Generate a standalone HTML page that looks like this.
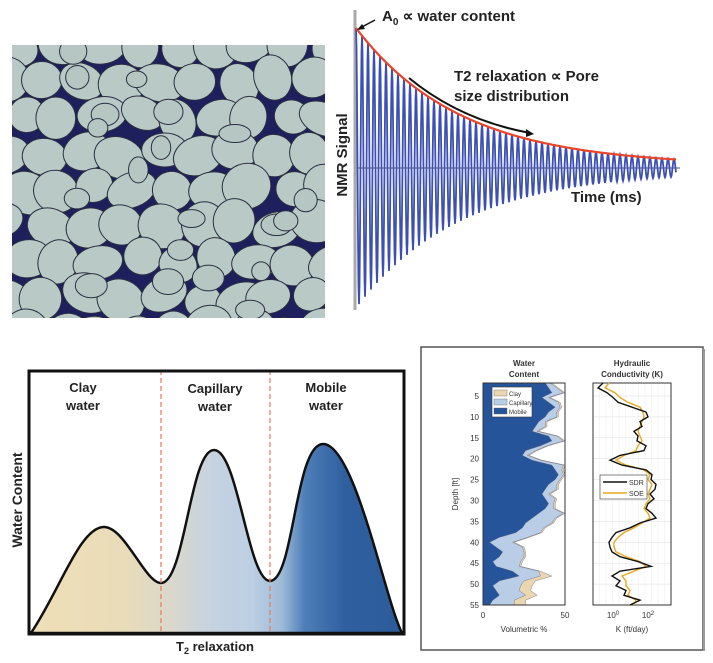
<!DOCTYPE html>
<html><head><meta charset="utf-8"><style>
html,body{margin:0;padding:0;background:#fff;width:713px;height:663px;overflow:hidden}
svg{display:block}
text{font-family:"Liberation Sans",sans-serif}
</style></head><body>
<svg id="s" width="713" height="663" xmlns="http://www.w3.org/2000/svg">
<defs>
<linearGradient id="g1" x1="32" x2="400" gradientUnits="userSpaceOnUse">
<stop offset="0" stop-color="#efdfb8"/><stop offset="0.25" stop-color="#e9dcb8"/>
<stop offset="0.38" stop-color="#d9d8cc"/><stop offset="0.5" stop-color="#c4d2e2"/>
<stop offset="0.6" stop-color="#bccfe2"/><stop offset="0.68" stop-color="#9dbad8"/>
<stop offset="0.74" stop-color="#4f7fb8"/><stop offset="0.85" stop-color="#2f5f9e"/>
<stop offset="1" stop-color="#2d5c9c"/></linearGradient>
<clipPath id="ci"><rect x="12" y="45" width="313" height="273"/></clipPath>
</defs>
<g clip-path="url(#ci)"><rect x="12" y="45" width="313" height="273" fill="#1d205c"/><g id="grains"></g></g>

<line x1="355" y1="10" x2="355" y2="310" stroke="#aaa" stroke-width="3"/>
<line x1="355" y1="168" x2="680" y2="168" stroke="#aaa" stroke-width="2"/>
<polyline id="osc" fill="none" stroke="#3b4fb5" stroke-width="1.8"/>
<path id="env" fill="none" stroke="#e8452c" stroke-width="2.2"/>
<text x="382" y="21" font-size="15" font-weight="bold" fill="#222">A<tspan font-size="10" dy="4">0</tspan><tspan dy="-4"> ∝ water content</tspan></text>
<line x1="375" y1="20" x2="360" y2="28" stroke="#111" stroke-width="1.5"/><path d="M357,30 l8,-1 l-3,-5z" fill="#111"/>
<text x="454" y="81" font-size="15" font-weight="bold" fill="#222">T2 relaxation  ∝ Pore</text>
<text x="454" y="101" font-size="15" font-weight="bold" fill="#222">size distribution</text>
<path d="M409,78 Q460,120 530,133" fill="none" stroke="#111" stroke-width="2"/><path d="M534,134 l-8,-5 l0,8z" fill="#111"/>
<text x="571" y="202" font-size="15" font-weight="bold" fill="#222">Time (ms)</text>
<text transform="translate(347,155) rotate(-90)" text-anchor="middle" font-size="15" font-weight="bold" fill="#222">NMR Signal</text>

<path d="M31,633 C60,590 80,527 104,527 C125,527 145,583 161,583 C185,583 190,450 214,450 C238,450 248,581 270,581 C294,581 295,444 323,444 C355,444 385,600 402,633 Z" fill="url(#g1)" stroke="#111" stroke-width="2.5"/>
<line x1="161" y1="370" x2="161" y2="633" stroke="#e8785c" stroke-width="1.2" stroke-dasharray="5,3"/>
<line x1="270" y1="370" x2="270" y2="633" stroke="#e8785c" stroke-width="1.2" stroke-dasharray="5,3"/>
<rect x="29" y="371" width="375" height="263" fill="none" stroke="#111" stroke-width="3"/>
<g font-size="13" font-weight="bold" fill="#222" text-anchor="middle">
<text x="83" y="392">Clay</text><text x="83" y="410">water</text>
<text x="215" y="393">Capillary</text><text x="215" y="411">water</text>
<text x="326" y="392">Mobile</text><text x="326" y="410">water</text>
<text x="215" y="651">T<tspan font-size="9" dy="3">2</tspan><tspan dy="-3"> relaxation</tspan></text>
<text transform="translate(22,500) rotate(-90)" font-size="14">Water Content</text>
</g>

<rect x="421" y="347" width="282" height="303" fill="#fff" stroke="#555" stroke-width="1.5"/>
<line x1="704" y1="349" x2="704" y2="651" stroke="#999" stroke-width="2"/>
<g id="log"></g>
<g font-size="8" fill="#333" text-anchor="middle" font-weight="bold">
<text x="524" y="366">Water</text><text x="524" y="377">Content</text>
<text x="632" y="366">Hydraulic</text><text x="632" y="377">Conductivity (K)</text>
</g>
<g font-size="8" fill="#333" text-anchor="middle">
<text x="524" y="632">Volumetric %</text><text x="632" y="632">K (ft/day)</text>
<text x="483" y="618">0</text><text x="565" y="618">50</text>
<text x="613" y="618">10<tspan font-size="6" dy="-3">0</tspan></text>
<text x="648" y="618">10<tspan font-size="6" dy="-3">2</tspan></text>
<text transform="translate(458,494) rotate(-90)">Depth [ft]</text>
</g>
</svg>
<script>
var NS="http://www.w3.org/2000/svg";
function el(t,a,p){var e=document.createElementNS(NS,t);for(var k in a)e.setAttribute(k,a[k]);(p||document.getElementById('s')).appendChild(e);return e;}
var seed=7;function r(){seed=(seed*16807)%2147483647;return seed/2147483647;}
var G=document.getElementById('grains');
for(var gy=40;gy<340;gy+=36){for(var gx=0;gx<345;gx+=38){
 var cx=gx+r()*12+((gy/36)%2)*16,cy=gy+r()*10;var rx=18+r()*8,ry=16+r()*7;
 el('ellipse',{cx:cx,cy:cy,rx:rx,ry:ry,fill:'#b9c9c6',stroke:'#2a2f40','stroke-width':1,transform:'rotate('+(r()*60-30)+' '+cx+' '+cy+')'},G);}}
for(var i=0;i<20;i++){el('ellipse',{cx:12+r()*313,cy:45+r()*273,rx:9+r()*8,ry:8+r()*6,fill:'#b6c6c3',stroke:'#2a2f40','stroke-width':1},G);}
var pts=[],ep=[];
for(var x=356;x<=676;x+=0.5){var a=138*Math.exp(-(x-356)/105)+2;pts.push(x+','+(168-a*Math.cos((x-356)/6*2*Math.PI)).toFixed(1));}
for(var x=356;x<=676;x+=2){var a=138*Math.exp(-(x-356)/105)+2;ep.push((ep.length?'L':'M')+x+','+(168-a).toFixed(1));}
document.getElementById('osc').setAttribute('points',pts.join(' '));
document.getElementById('env').setAttribute('d',ep.join(''));
var L=document.getElementById('log');
var y0=383,y1=605;function dy(dep){return 396+(dep-5)*20.9/5;}
var x0=483,x1=565;
var dep=[],mob=[],cap=[],cla=[];
var m=[38,40,42,36,40,44,40,38,34,32,30,40,42,35,26,24,30,42,44,46,44,40,38,36,38,40,38,34,30,26,24,20,10,4,8,12,10,6,8,18,22,10,6,8,10,6,4];
for(var i=0;i<m.length;i++){var dd=1.9+i*53.1/(m.length-1);dep.push(dd);var mv=m[i];mob.push(mv);var c=mv+3+((i*7)%5)+(dd>33?10:0);cap.push(Math.min(c,49));cla.push(Math.min(c+1+(dd>47?6:0),50));}
function poly(vals,fill){var p=x0+','+y0+' ';for(var i=0;i<vals.length;i++)p+=(x0+vals[i]*(x1-x0)/50).toFixed(1)+','+dy(dep[i]).toFixed(1)+' ';p+=x0+','+y1;el('polygon',{points:p,fill:fill,stroke:'#667','stroke-width':.4},L);}
poly(cla,'#ead7b0');poly(cap,'#b9cde6');poly(mob,'#26549a');
el('rect',{x:x0,y:y0,width:x1-x0,height:y1-y0,fill:'none',stroke:'#333','stroke-width':1},L);
var kx0=593,kx1=671;
for(var v=5;v<=55;v+=5){var yy=dy(v);el('line',{x1:kx0,y1:yy,x2:kx1,y2:yy,stroke:'#ddd','stroke-width':.5},L);
 var t=el('text',{x:x0-4,y:yy+3,'font-size':8,fill:'#333','text-anchor':'end'},L);t.textContent=v;}
for(var k=0;k<12;k++){var xx=kx0+k*6.5;el('line',{x1:xx,y1:y0,x2:xx,y2:y1,stroke:'#eee','stroke-width':.5},L);}
el('rect',{x:kx0,y:y0,width:kx1-kx0,height:y1-y0,fill:'none',stroke:'#333','stroke-width':1},L);
var sdr=[603,598,607,613,618,632,646,648,640,642,634,638,637,646,644,620,610,622,646,652,651,656,655,650,654,648,646,652,656,640,630,616,612,609,610,612,620,638,651,620,612,620,616,626,624,640,630];
var soe=[609,605,615,620,628,640,643,644,642,640,638,640,642,638,636,624,616,626,644,650,648,652,650,648,650,646,644,648,650,642,634,624,618,614,614,616,626,640,646,634,622,626,626,630,628,636,634];
function line(v,c){var p='';for(var i=0;i<v.length;i++)p+=v[i]+','+dy(dep[i]).toFixed(1)+' ';el('polyline',{points:p,fill:'none',stroke:c,'stroke-width':1.4},L);}
line(soe,'#e8a822');line(sdr,'#111');
el('rect',{x:600,y:475,width:47,height:24,fill:'#fff',stroke:'#333','stroke-width':.6},L);
el('line',{x1:603,y1:482,x2:627,y2:482,stroke:'#111','stroke-width':1.5},L);
el('line',{x1:603,y1:493,x2:627,y2:493,stroke:'#e8a822','stroke-width':1.5},L);
var t=el('text',{x:629,y:485,'font-size':7,fill:'#333'},L);t.textContent='SDR';
t=el('text',{x:629,y:496,'font-size':7,fill:'#333'},L);t.textContent='SOE';
el('rect',{x:492,y:387,width:40,height:30,fill:'#fff',stroke:'#333','stroke-width':.6},L);
var lc=[['#ead7b0','Clay'],['#b9cde6','Capillary'],['#26549a','Mobile']];
for(var i=0;i<3;i++){el('rect',{x:494,y:390+i*9,width:13,height:6,fill:lc[i][0],stroke:'#666','stroke-width':.4},L);t=el('text',{x:509,y:396+i*9,'font-size':6,fill:'#333'},L);t.textContent=lc[i][1];}
</script>
</body></html>
